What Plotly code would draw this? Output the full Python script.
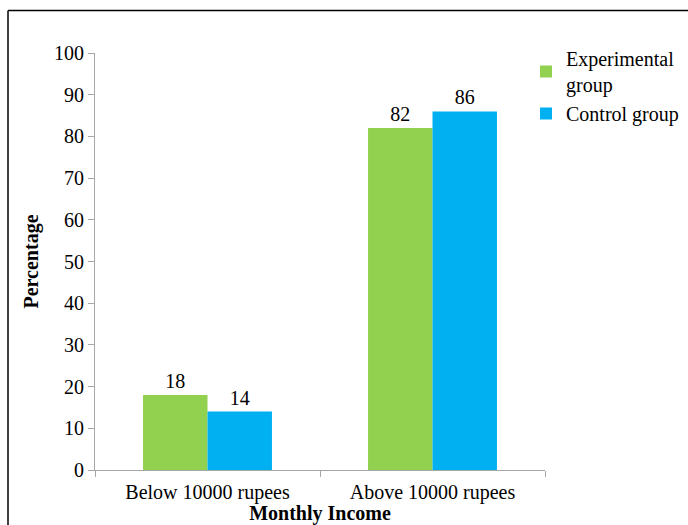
import plotly.graph_objects as go

categories = ["Below 10000 rupees", "Above 10000 rupees"]
experimental = [18, 82]
control = [14, 86]
y_ticks = list(range(0, 101, 10))

W, H = 688, 525
L, R, T, B = 95, 143, 53, 55
pw, ph = W - L - R, H - T - B

font_family = "Liberation Serif, Times New Roman, serif"
FS = 20

fig = go.Figure()
fig.add_trace(go.Bar(
    name="Experimental<br>group", x=categories, y=experimental,
    marker=dict(color="#92D050", line=dict(width=0)),
    text=[str(v) for v in experimental], textposition="outside",
    textfont=dict(size=FS, color="black", family=font_family),
    cliponaxis=False,
))
fig.add_trace(go.Bar(
    name="Control group", x=categories, y=control,
    marker=dict(color="#00B0F0", line=dict(width=0)),
    text=[str(v) for v in control], textposition="outside",
    textfont=dict(size=FS, color="black", family=font_family),
    cliponaxis=False,
))

# frame lines: top and left edges of the chart area
def px_x(p):
    return (p - L) / pw

def px_y(p):
    return (H - B - p) / ph

fig.add_shape(type="line", xref="paper", yref="paper",
              x0=px_x(8), x1=px_x(700), y0=px_y(10.5), y1=px_y(10.5),
              line=dict(color="black", width=1.5))
fig.add_shape(type="line", xref="paper", yref="paper",
              x0=px_x(8), x1=px_x(8), y0=px_y(10.5), y1=px_y(540),
              line=dict(color="black", width=1.5))

fig.update_layout(
    width=W, height=H,
    margin=dict(l=L, r=R, t=T, b=B, autoexpand=False),
    paper_bgcolor="white", plot_bgcolor="white",
    barmode="group", bargap=0.427, bargroupgap=0,
    font=dict(family=font_family, size=FS, color="black"),
    showlegend=True,
    legend=dict(x=526 / W, y=1 - 39 / H, xanchor="left", yanchor="top",
                xref="container", yref="container",
                font=dict(size=FS, family=font_family),
                itemwidth=30, tracegroupgap=2,
                bgcolor="rgba(0,0,0,0)"),
    xaxis=dict(
        showline=True, linecolor="#A6A6A6", linewidth=1,
        ticks="outside", tickson="boundaries", ticklen=6, tickcolor="#A6A6A6",
        tickfont=dict(size=FS, family=font_family),
        ticklabelstandoff=4,
        title=dict(text="<b>Monthly Income</b>", standoff=4,
                   font=dict(size=FS, family=font_family)),
        showgrid=False, automargin=False,
    ),
    yaxis=dict(
        range=[0, 100], tickvals=y_ticks,
        showline=True, linecolor="#A6A6A6", linewidth=1,
        ticks="outside", ticklen=6, tickcolor="#A6A6A6",
        tickfont=dict(size=FS, family=font_family),
        title=dict(text="<b>Percentage</b>", standoff=10,
                   font=dict(size=FS, family=font_family)),
        showgrid=False, zeroline=False, automargin=False,
    ),
)

fig.write_html("out.html")
